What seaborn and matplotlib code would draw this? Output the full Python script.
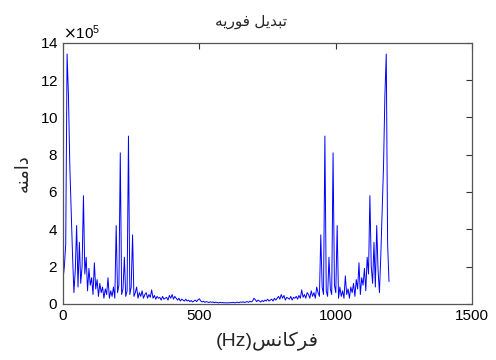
import numpy as np
import pandas as pd
import seaborn as sns
import matplotlib.pyplot as plt
from matplotlib.ticker import ScalarFormatter

# magnitude, in units of 1e5, one value every 5 Hz
left_half = [1.3, 2.0, 3.2, 13.4, 11.2, 7.4, 5.0, 2.6, 0.6, 1.8,
             4.2, 0.9, 3.3, 1.1, 2.0, 5.8, 1.6, 2.5, 0.7, 1.9,
             1.0, 1.4, 0.5, 2.2, 0.8, 1.3, 0.4, 1.1, 0.6, 0.9,
             0.3, 0.8, 0.5, 1.4, 0.3, 0.7, 0.4, 0.9, 0.3, 4.2,
             0.6, 1.0, 8.1, 0.5, 0.8, 2.5, 0.4, 0.7, 9.0, 0.5,
             0.9, 3.7, 0.4, 0.6, 0.9, 0.3, 0.6, 0.4, 0.7, 0.3,
             0.5, 0.6, 0.3, 0.5, 0.35, 0.75, 0.3, 0.45, 0.25, 0.4,
             0.3, 0.35, 0.2, 0.4, 0.25, 0.3, 0.35, 0.2, 0.45, 0.3,
             0.5, 0.25, 0.4, 0.3, 0.2, 0.3, 0.15, 0.25, 0.2, 0.15,
             0.25, 0.15, 0.2, 0.12, 0.18, 0.1, 0.15, 0.2, 0.12, 0.22,
             0.27, 0.15, 0.1, 0.14, 0.08, 0.12, 0.1, 0.07, 0.11, 0.08,
             0.1, 0.06, 0.09, 0.07, 0.05, 0.08, 0.06, 0.07, 0.05, 0.06,
             0.05]
right_half = [0.06, 0.05, 0.07, 0.06, 0.08, 0.05, 0.07, 0.09, 0.06, 0.1,
              0.08, 0.11, 0.07, 0.1, 0.12, 0.08, 0.14, 0.1, 0.15, 0.3,
              0.22, 0.12, 0.2, 0.15, 0.1, 0.18, 0.12, 0.2, 0.15, 0.25,
              0.15, 0.2, 0.25, 0.15, 0.3, 0.2, 0.3, 0.4, 0.25, 0.5,
              0.3, 0.45, 0.2, 0.35, 0.3, 0.25, 0.4, 0.2, 0.35, 0.3,
              0.4, 0.25, 0.45, 0.3, 0.75, 0.35, 0.5, 0.3, 0.6, 0.5,
              0.3, 0.7, 0.4, 0.6, 0.3, 0.9, 0.6, 0.4, 3.7, 0.9,
              0.5, 9.0, 0.7, 0.4, 2.5, 0.8, 0.5, 8.1, 1.0, 0.6,
              4.2, 0.3, 0.9, 0.4, 0.7, 0.3, 1.5, 0.5, 0.8, 0.3,
              0.9, 0.6, 1.1, 0.4, 1.3, 0.8, 2.2, 0.5, 1.4, 1.0,
              1.9, 0.7, 2.5, 1.6, 5.8, 2.0, 1.1, 3.3, 0.9, 4.2,
              1.8, 0.6, 2.6, 5.0, 7.4, 11.2, 13.4, 3.2, 1.2]
mag = np.array(left_half + right_half) * 1e5
freq = np.arange(len(mag)) * 5

# Persian labels written in visual (shaped, right-to-left) order
title_txt = "\uFEEA\uFBFE\uFEAD\uFEEE\uFED3 \uFEDE\uFBFE\uFEAA\uFE92\uFE97"
ylabel_txt = "\uFEEA\uFEE8\uFEE3\uFE8D\uFEA9"
xlabel_txt = "(Hz)\uFEB2\uFEE7\uFE8E\uFB90\uFEAE\uFED3"

df = pd.DataFrame({"freq": freq, "mag": mag})

sns.set_style("white")
plt.rcParams['font.family'] = ['Liberation Sans', 'DejaVu Sans']

fig = plt.figure(figsize=(4.96, 3.6), dpi=100)
ax = fig.add_axes([0.127, 0.156, 0.825, 0.725])
sns.lineplot(data=df, x="freq", y="mag", color="#0000ff", lw=0.7,
             estimator=None, sort=False, ax=ax)

ax.set_xlim(0, 1500)
ax.set_ylim(0, 14e5)
ax.set_xticks([0, 500, 1000, 1500])
ax.set_yticks(np.arange(0, 15e5, 2e5))
fmt = ScalarFormatter(useMathText=True)
fmt.set_powerlimits((5, 5))
ax.yaxis.set_major_formatter(fmt)
ax.yaxis.get_offset_text().set_fontsize(11)

ax.tick_params(direction="in", top=True, right=True, length=4,
               labelsize=11, colors="#333333", width=0.8)
ax.tick_params(axis="both", labelcolor="black")
for s in ax.spines.values():
    s.set_visible(True)
    s.set_color("#555555")
    s.set_linewidth(0.9)

ax.set_title(title_txt, fontsize=11, x=0.46, pad=12)
ax.set_xlabel(xlabel_txt, fontsize=14, labelpad=7)
ax.set_ylabel(ylabel_txt, fontsize=13, labelpad=6)

plt.savefig("out.png", dpi=100)
